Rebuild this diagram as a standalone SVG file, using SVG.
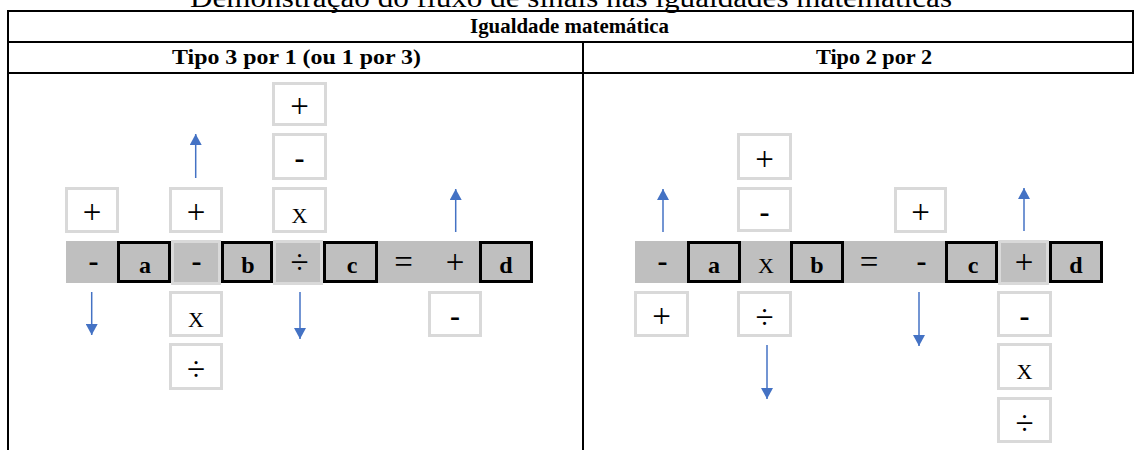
<svg xmlns="http://www.w3.org/2000/svg" width="1140" height="450" viewBox="0 0 1140 450">
<style>
.ser{font-family:"Liberation Serif","Times New Roman",serif;fill:#000}
.ttl{font-size:28px}
.hdr{font-size:20px;font-weight:bold}
.sym{font-size:33px;text-anchor:middle}
.dash{font-size:30px;font-weight:bold;text-anchor:middle}
.let{font-size:24px;font-weight:bold;text-anchor:middle}
.xx{font-size:22px;text-anchor:middle}
.lb{fill:#fff;stroke:#d9d9d9;stroke-width:3}
.lc{fill:#bfbfbf;stroke:#d9d9d9;stroke-width:3}
.bb{fill:#bfbfbf;stroke:#000;stroke-width:3}
.bar{fill:#bfbfbf}
.tl{stroke:#000;stroke-width:2;fill:none}
.arr{stroke:#4472c4;stroke-width:1.5;fill:none;marker-end:url(#ah)}
</style>
<defs>
<marker id="ah" viewBox="0 0 11 12" refX="11" refY="6" markerWidth="11" markerHeight="12" markerUnits="userSpaceOnUse" orient="auto">
<path d="M0,0 L11,6 L0,12 z" fill="#4472c4"/>
</marker>
</defs>
<rect width="1140" height="450" fill="#fff"/>
<g id="table">
<text class="ser ttl" x="190" y="7" textLength="762" lengthAdjust="spacingAndGlyphs">Demonstração do fluxo de sinais nas igualdades matemáticas</text>
<line class="tl" x1="7" y1="11" x2="1134" y2="11"/>
<line class="tl" x1="7" y1="42" x2="1134" y2="42"/>
<line class="tl" x1="7" y1="73" x2="1134" y2="73"/>
<line class="tl" x1="8" y1="10" x2="8" y2="450" stroke-width="2.5"/>
<line class="tl" x1="583" y1="42" x2="583" y2="450" stroke-width="3"/>
<line class="tl" x1="1133" y1="10" x2="1133" y2="74"/>
<text class="ser hdr" x="470" y="33" textLength="199" lengthAdjust="spacingAndGlyphs">Igualdade matemática</text>
<text class="ser hdr" x="172" y="64" textLength="249" lengthAdjust="spacingAndGlyphs">Tipo 3 por 1 (ou 1 por 3)</text>
<text class="ser hdr" x="816" y="64" textLength="116" lengthAdjust="spacingAndGlyphs">Tipo 2 por 2</text>
</g>
<g id="left-row">
<rect class="bar" x="66" y="241" width="467" height="42"/>
<rect class="lc" x="172.5" y="241.5" width="47" height="42"/>
<rect class="lc" x="274.5" y="241.5" width="47" height="42"/>
<rect class="bb" x="118.5" y="242.5" width="51" height="39"/>
<rect class="bb" x="222.5" y="242.5" width="49" height="39"/>
<rect class="bb" x="324.5" y="242.5" width="52" height="39"/>
<rect class="bb" x="480.5" y="242.5" width="51" height="39"/>
<text class="ser dash" x="93.5" y="271">-</text>
<text class="ser let" x="145" y="273">a</text>
<text class="ser dash" x="196.5" y="271">-</text>
<text class="ser let" x="248" y="273">b</text>
<text class="ser sym" x="299.5" y="272.5">÷</text>
<text class="ser let" x="352" y="273">c</text>
<text class="ser sym" x="403.5" y="272.5">=</text>
<text class="ser sym" x="455" y="272.5">+</text>
<text class="ser let" x="506" y="273">d</text>
</g>
<g id="left-above">
<rect class="lb" x="66.5" y="188.5" width="51" height="43"/>
<text class="ser sym" x="92" y="223">+</text>
<rect class="lb" x="170.5" y="188.5" width="51" height="43"/>
<text class="ser sym" x="196" y="223">+</text>
<rect class="lb" x="273.5" y="83.5" width="52" height="41"/>
<text class="ser sym" x="299.5" y="117">+</text>
<rect class="lb" x="273.5" y="134.5" width="52" height="44"/>
<text class="ser dash" x="299.5" y="168">-</text>
<rect class="lb" x="273.5" y="188.5" width="52" height="43"/>
<text class="ser xx" x="299.5" y="223">X</text>
</g>
<g id="left-below">
<rect class="lb" x="170.5" y="292.5" width="51" height="43"/>
<text class="ser xx" x="196" y="327">X</text>
<rect class="lb" x="170.5" y="344.5" width="51" height="44"/>
<text class="ser sym" x="196" y="380">÷</text>
<rect class="lb" x="429.5" y="292.5" width="51" height="43"/>
<text class="ser dash" x="455" y="326">-</text>
</g>
<g id="right-row">
<rect class="bar" x="635" y="241" width="468" height="42"/>
<rect class="lc" x="999.5" y="241.5" width="48" height="42"/>
<rect class="bb" x="688.5" y="242.5" width="51" height="39"/>
<rect class="bb" x="791.5" y="242.5" width="51" height="39"/>
<rect class="bb" x="946.5" y="242.5" width="50" height="39"/>
<rect class="bb" x="1050.5" y="242.5" width="51" height="39"/>
<text class="ser dash" x="662.5" y="271">-</text>
<text class="ser let" x="714" y="273">a</text>
<text class="ser xx" x="766" y="272.5">X</text>
<text class="ser let" x="817" y="273">b</text>
<text class="ser sym" x="869" y="272.5">=</text>
<text class="ser dash" x="921.5" y="271">-</text>
<text class="ser let" x="973" y="273">c</text>
<text class="ser sym" x="1024" y="272.5">+</text>
<text class="ser let" x="1076" y="273">d</text>
</g>
<g id="right-above">
<rect class="lb" x="738.5" y="134.5" width="52" height="44"/>
<text class="ser sym" x="764.5" y="170">+</text>
<rect class="lb" x="738.5" y="188.5" width="52" height="42"/>
<text class="ser dash" x="764.5" y="222">-</text>
<rect class="lb" x="895.5" y="188.5" width="50" height="43"/>
<text class="ser sym" x="920.5" y="223">+</text>
</g>
<g id="right-below">
<rect class="lb" x="635.5" y="292.5" width="52" height="43"/>
<text class="ser sym" x="661.5" y="327">+</text>
<rect class="lb" x="738.5" y="292.5" width="52" height="43"/>
<text class="ser sym" x="764.5" y="327.5">÷</text>
<rect class="lb" x="998.5" y="292.5" width="52" height="43"/>
<text class="ser dash" x="1024.5" y="326">-</text>
<rect class="lb" x="998.5" y="344.5" width="52" height="44"/>
<text class="ser xx" x="1024.5" y="379">X</text>
<rect class="lb" x="998.5" y="398.5" width="52" height="43"/>
<text class="ser sym" x="1024.5" y="433.5">÷</text>
</g>
<g id="connectors">
<line class="arr" x1="195.7" y1="178" x2="195.7" y2="134"/>
<line class="arr" x1="455.7" y1="232" x2="455.7" y2="189"/>
<line class="arr" x1="91.7" y1="292" x2="91.7" y2="335"/>
<line class="arr" x1="300" y1="292" x2="300" y2="339"/>
<line class="arr" x1="663" y1="232" x2="663" y2="189"/>
<line class="arr" x1="1024" y1="231" x2="1024" y2="188"/>
<line class="arr" x1="767" y1="345" x2="767" y2="399"/>
<line class="arr" x1="919" y1="292" x2="919" y2="346"/>
</g>
</svg>
